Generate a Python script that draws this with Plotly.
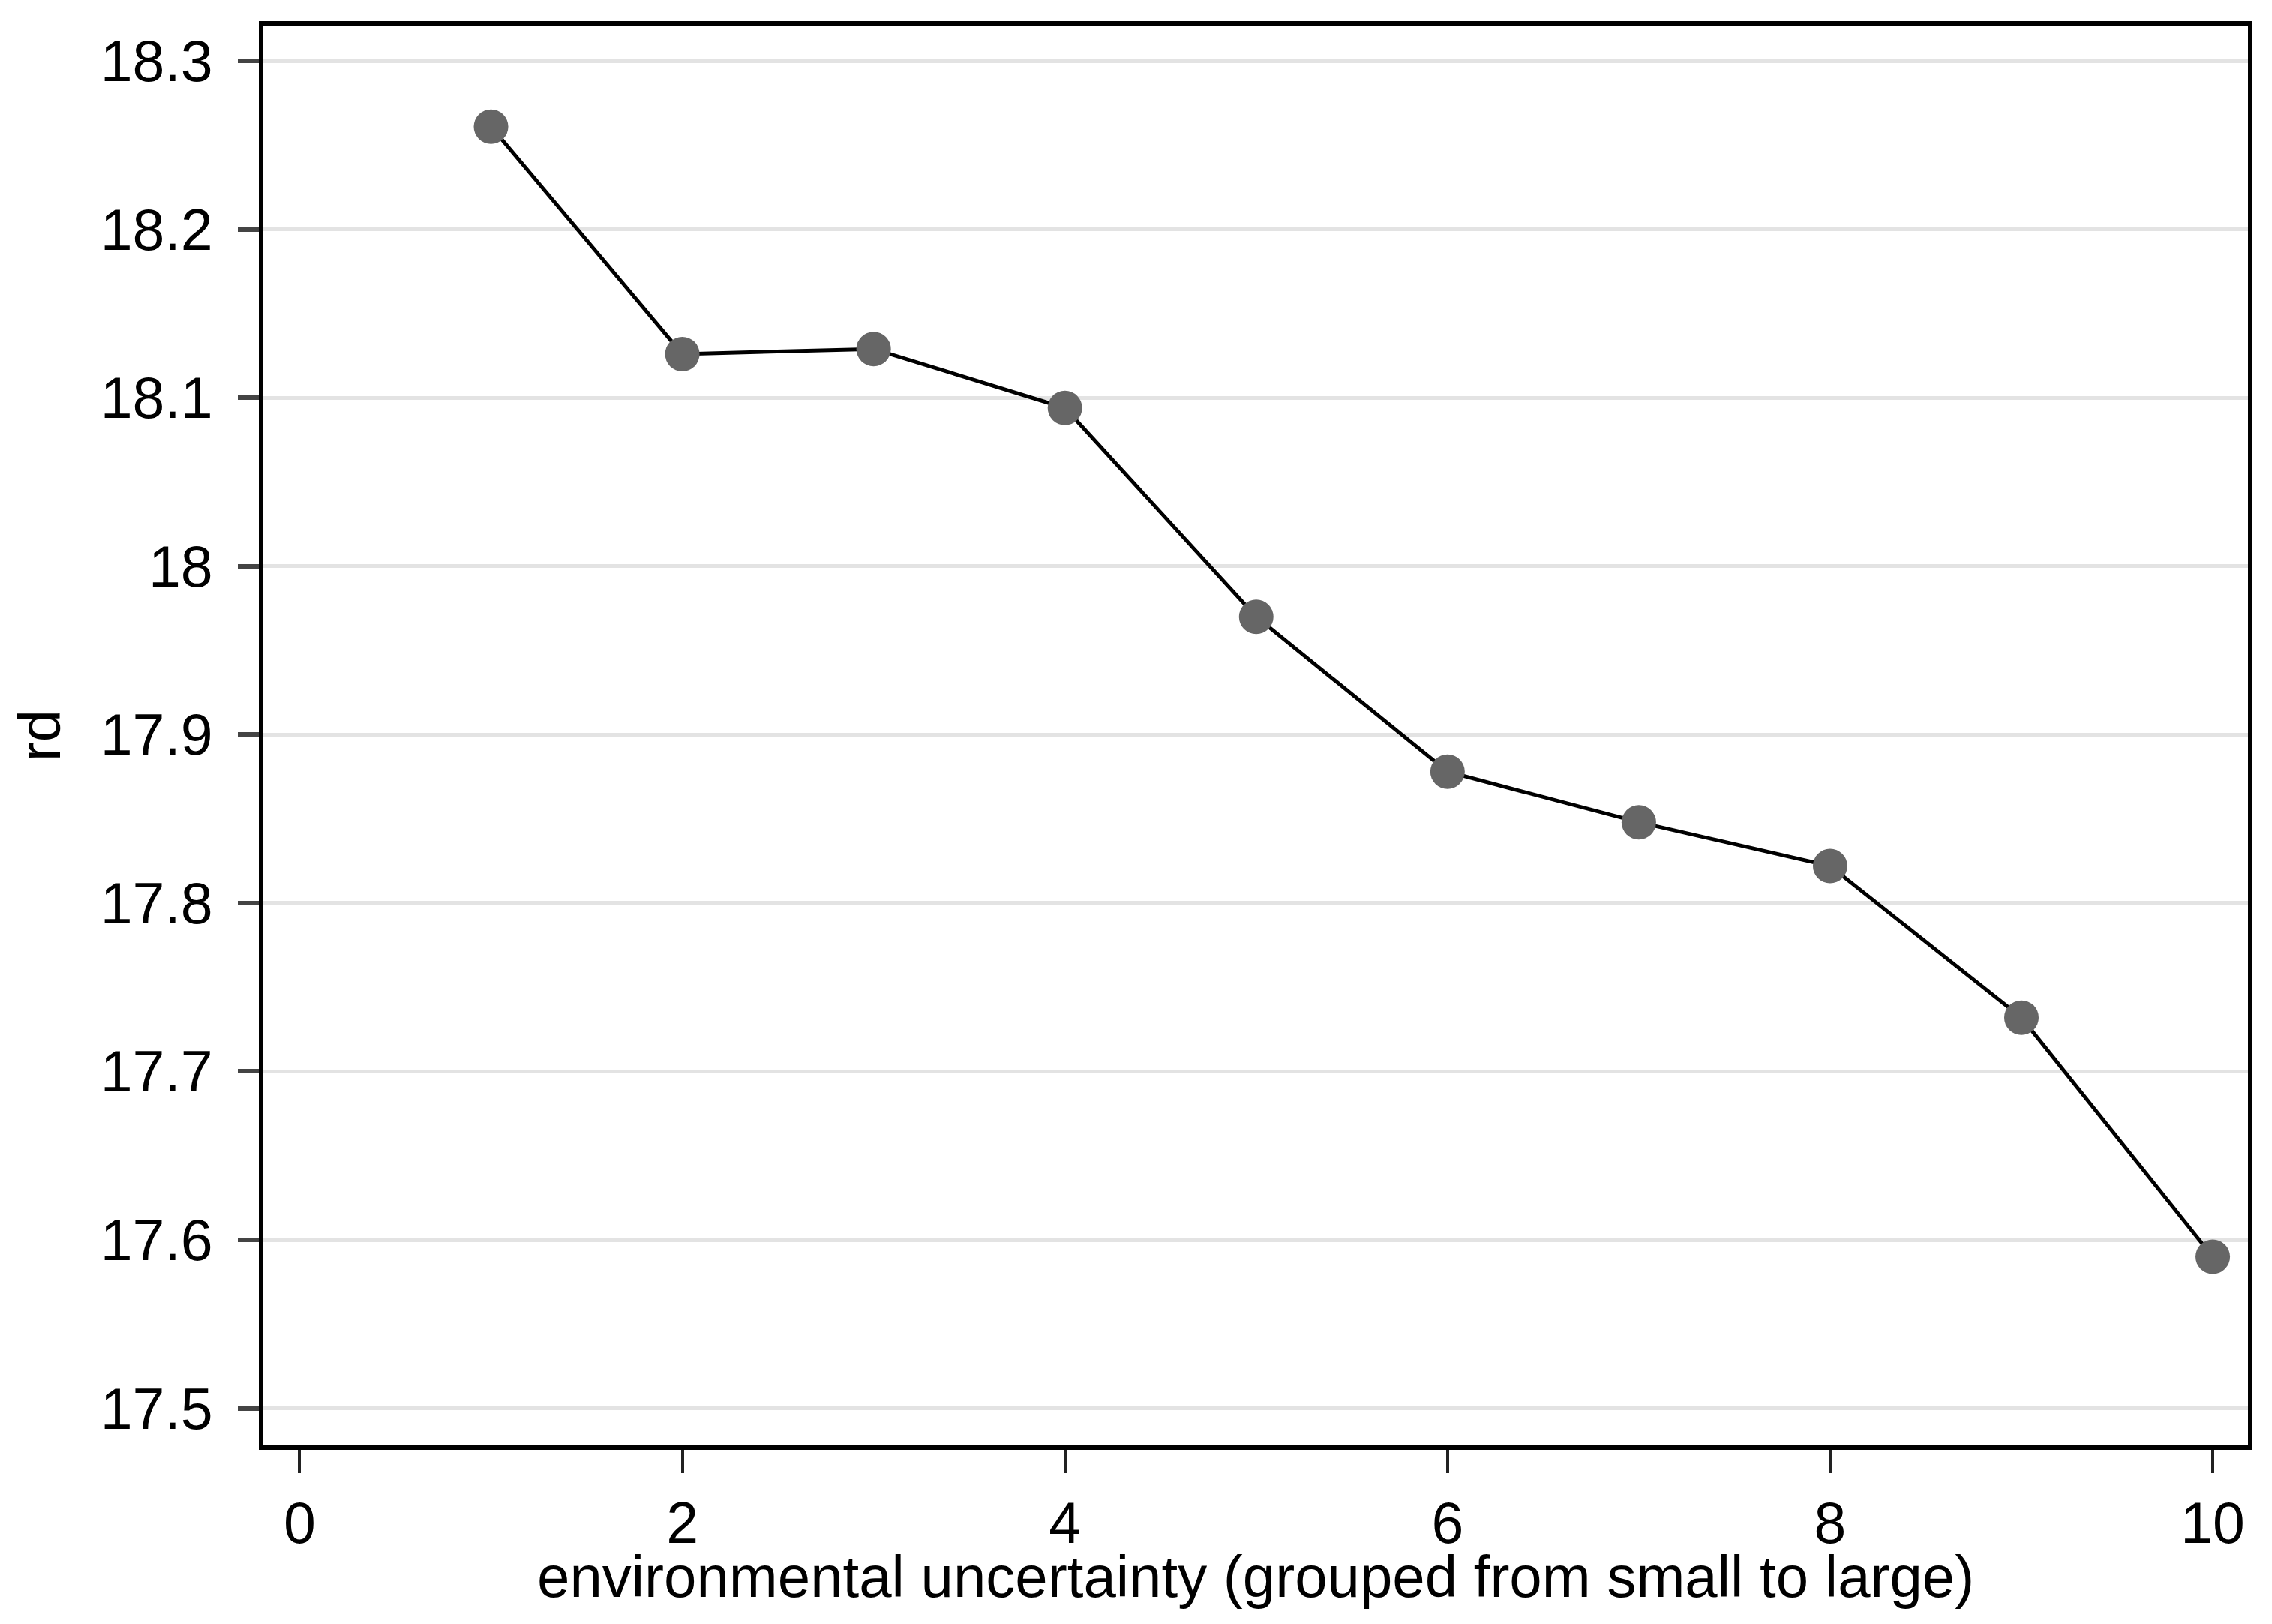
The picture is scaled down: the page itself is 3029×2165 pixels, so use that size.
import plotly.graph_objects as go

groups = [1, 2, 3, 4, 5, 6, 7, 8, 9, 10]
rd = [18.261, 18.126, 18.129, 18.094, 17.970, 17.878, 17.848, 17.822, 17.732, 17.590]

y_ticks = [17.5, 17.6, 17.7, 17.8, 17.9, 18.0, 18.1, 18.2, 18.3]
y_ticktext = ["17.5", "17.6", "17.7", "17.8", "17.9", "18", "18.1", "18.2", "18.3"]
x_ticks = [0, 2, 4, 6, 8, 10]
x_title = "environmental uncertainty (grouped from small to large)"
y_title = "rd"

FONT = "Liberation Sans, Arial, sans-serif"

fig = go.Figure()
fig.add_trace(go.Scatter(
    x=groups, y=rd, mode="lines+markers",
    line=dict(color="black", width=5),
    marker=dict(size=46, color="#666666", line=dict(width=0)),
    showlegend=False,
))

fig.update_layout(
    width=3029, height=2165,
    margin=dict(l=343, r=40, t=26, b=246),
    paper_bgcolor="white", plot_bgcolor="white",
    font=dict(family=FONT, size=77, color="black"),
    xaxis=dict(
        range=[-0.19, 10.184],
        tickvals=x_ticks,
        ticks="outside", ticklen=31, tickwidth=4, tickcolor="#222222",
        showgrid=False, zeroline=False,
        showline=True, linecolor="black", linewidth=6, mirror=True,
        tickfont=dict(family=FONT, size=77, color="black"),
        ticklabelstandoff=1,
    ),
    yaxis=dict(
        range=[17.478, 18.321],
        tickvals=y_ticks, ticktext=y_ticktext,
        ticks="outside", ticklen=28, tickwidth=6, tickcolor="#444444",
        showgrid=True, gridcolor="#e3e3e3", gridwidth=5,
        zeroline=False,
        showline=True, linecolor="black", linewidth=6, mirror=True,
        tickfont=dict(family=FONT, size=77, color="black"),
        ticklabelstandoff=18,
        title=dict(text=y_title, font=dict(family=FONT, size=78, color="black"), standoff=29),
    ),
    annotations=[dict(
        text=x_title, xref="paper", yref="paper", x=0.5, y=-0.0925,
        xanchor="center", yanchor="middle", showarrow=False,
        font=dict(family=FONT, size=78, color="black"),
    )],
)

fig.write_html("out.html")
